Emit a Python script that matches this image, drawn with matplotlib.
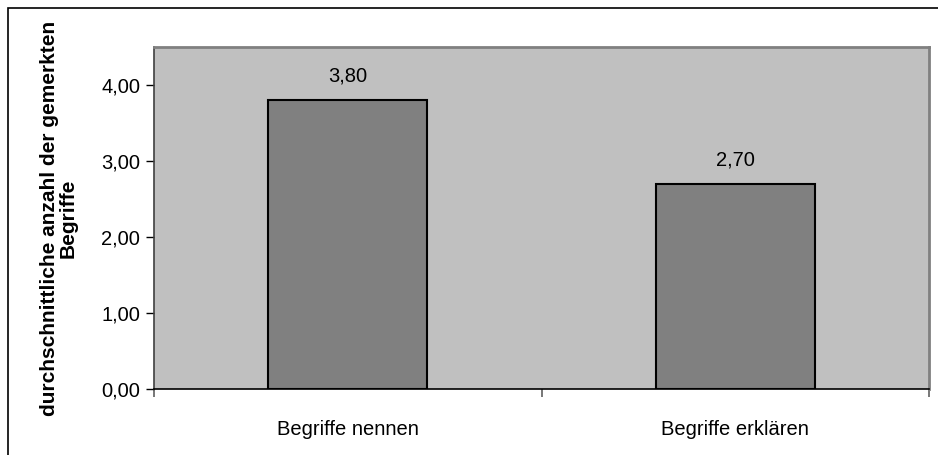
import matplotlib
matplotlib.use("Agg")
import matplotlib.pyplot as plt
from matplotlib.patches import Rectangle
from matplotlib.ticker import FuncFormatter, FixedLocator

categories = ["Begriffe nennen", "Begriffe erklären"]
values = [3.80, 2.70]
ylabel = "durchschnittliche anzahl der gemerkten\nBegriffe"

plt.rcParams["font.family"] = ["Liberation Sans", "DejaVu Sans"]

W, H = 938, 455
fig = plt.figure(figsize=(W / 100, H / 100), dpi=100)

# outer frame (clipped on right/bottom like the original)
fig.patches.append(Rectangle((8 / W, -0.1), 1.2, 1 - 8 / H + 0.1, transform=fig.transFigure,
                             fill=False, edgecolor="black", linewidth=1.2))

ax = fig.add_axes([154 / W, 1 - 389 / H, (929 - 154) / W, (389 - 47) / H])
ax.set_facecolor("#C0C0C0")

x = list(range(len(categories)))
bars = ax.bar(x, values, width=0.41, color="#808080", edgecolor="black", linewidth=1.5)
for b, v in zip(bars, values):
    ax.text(b.get_x() + b.get_width() / 2, v + 0.19, f"{v:.2f}".replace(".", ","),
            ha="center", va="bottom", fontsize=14.5)

ax.set_xlim(-0.5, len(categories) - 0.5)
ax.set_ylim(0, 4.5)
ax.set_yticks([0, 1, 2, 3, 4])
ax.yaxis.set_major_formatter(FuncFormatter(lambda v, p: f"{v:.2f}".replace(".", ",")))
ax.set_xticks(x)
ax.set_xticklabels(categories)
ax.xaxis.set_minor_locator(FixedLocator([-0.5, 0.5, 1.5]))
ax.tick_params(axis="x", which="major", length=0, pad=22, labelsize=14.5)
ax.tick_params(axis="x", which="minor", length=6, width=1.2, direction="out", color="#606060")
ax.tick_params(axis="y", length=6, width=1, direction="out", labelsize=14.5, pad=4)

for s in ["top", "right"]:
    ax.spines[s].set_color("#808080")
    ax.spines[s].set_linewidth(2)
ax.spines["left"].set_color("#404040")
ax.spines["bottom"].set_color("black")
ax.spines["left"].set_linewidth(1.2)
ax.spines["bottom"].set_linewidth(1.2)

ax.set_ylabel(ylabel, fontsize=15, fontweight="bold", labelpad=17, linespacing=1.0)

fig.savefig("out.png", dpi=100)
